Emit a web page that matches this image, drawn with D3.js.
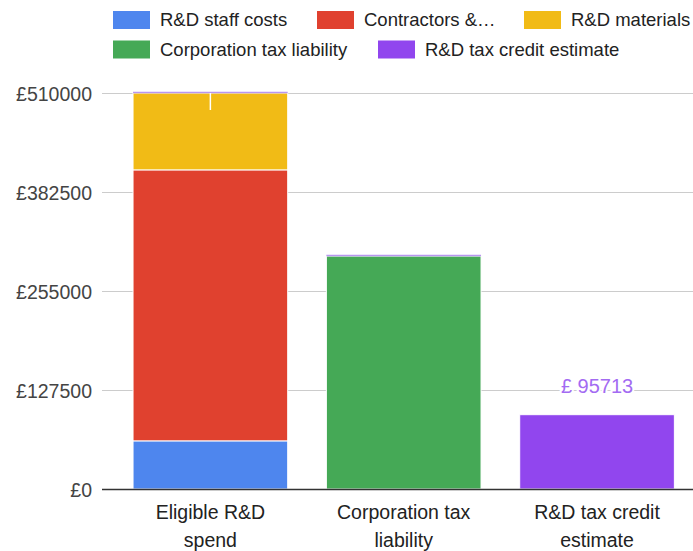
<!DOCTYPE html>
<html>
<head>
<meta charset="utf-8">
<script src="https://cdn.jsdelivr.net/npm/d3@7"></script>
<style>
  body { margin: 0; background: #fff; }
  svg { font-family: Arial, "Liberation Sans", sans-serif; }
  .grid line { stroke: #cccccc; stroke-width: 1; }
  .tick-label { fill: #444; font-size: 19.5px; }
  .cat-label { fill: #222; font-size: 19.5px; }
  .legend-label { fill: #222; font-size: 18.5px; }
</style>
</head>
<body>
<svg id="chart" width="693" height="551"></svg>
<script>
// categories on the x axis (each split on two lines)
var categories = ["Eligible R&D spend", "Corporation tax liability", "R&D tax credit estimate"];
var catLines = [["Eligible R&D", "spend"], ["Corporation tax", "liability"], ["R&D tax credit", "estimate"]];

// series (stacked in this order, bottom to top)
var seriesNames = ["R&D staff costs", "Contractors &…", "R&D materials", "Corporation tax liability", "R&D tax credit estimate"];
var seriesColors = ["#4e86ee", "#e0412f", "#f1bb16", "#45a956", "#9146ee"];

var staffCosts   = [62000, 0, 0];
var contractors  = [349000, 0, 0];
var materials    = [99000, 0, 0];
var corpTax      = [0, 300000, 0];
var taxCredit    = [0, 0, 95713];

// "" = empty annotation (only a stem shows), null = none
var annotations = ["", null, "£ 95713"];
var yTicks = [0, 127500, 255000, 382500, 510000];

var seriesValues = [staffCosts, contractors, materials, corpTax, taxCredit];

var svg = d3.select("#chart");

var rows = categories.map(function(c, i) {
  var r = {cat: c};
  seriesNames.forEach(function(s, j) { r[s] = seriesValues[j][i]; });
  return r;
});
var stacked = d3.stack().keys(seriesNames)(rows);

var x = d3.scaleBand()
  .domain(categories)
  .range([113.7, 693.7])
  .paddingInner(0.2)
  .paddingOuter(0.1);

var y = d3.scaleLinear()
  .domain([0, 510000])
  .range([489, 93]);

// gridlines
svg.append("g").attr("class", "grid")
  .selectAll("line").data(yTicks).enter().append("line")
  .attr("x1", 102).attr("x2", 693)
  .attr("y1", function(d) { return y(d) + 0.5; })
  .attr("y2", function(d) { return y(d) + 0.5; });

// y tick labels
svg.append("g").selectAll("text").data(yTicks).enter().append("text")
  .attr("class", "tick-label")
  .attr("x", 92)
  .attr("y", function(d) { return y(d) + 1; })
  .attr("dy", "0.35em")
  .attr("text-anchor", "end")
  .text(function(d) { return "£" + d; });

// bars
var layers = svg.append("g").selectAll("g").data(stacked).enter().append("g")
  .attr("fill", function(d, i) { return seriesColors[i]; });

layers.selectAll("rect")
  .data(function(d) { return d.map(function(p, i) { return {p: p, cat: categories[i]}; }); })
  .enter().append("rect")
  .filter(function(d) { return d.p[1] - d.p[0] > 0; })
  .attr("x", function(d) { return x(d.cat); })
  .attr("width", x.bandwidth())
  .attr("y", function(d) { return y(d.p[1]); })
  .attr("height", function(d) { return y(d.p[0]) - y(d.p[1]); })
  .attr("stroke", "#fff")
  .attr("stroke-width", 1);

// zero-height tax credit segment shows as a thin line on top of the first two bars
svg.append("g").selectAll("line")
  .data(stacked[4].map(function(p, i) { return {p: p, cat: categories[i]}; }).filter(function(d) { return d.p[1] - d.p[0] === 0; }))
  .enter().append("line")
  .attr("x1", function(d) { return x(d.cat); })
  .attr("x2", function(d) { return x(d.cat) + x.bandwidth(); })
  .attr("y1", function(d) { return y(d.p[1]) - 0.5; })
  .attr("y2", function(d) { return y(d.p[1]) - 0.5; })
  .attr("stroke", "#b896f0")
  .attr("stroke-width", 1.5);

// x axis line
svg.append("line")
  .attr("x1", 102).attr("x2", 693)
  .attr("y1", y(0) + 0.5).attr("y2", y(0) + 0.5)
  .attr("stroke", "#333").attr("stroke-width", 1.5);

// annotations
var totals = rows.map(function(r) { return d3.sum(seriesNames, function(s) { return r[s]; }); });
annotations.forEach(function(a, i) {
  var cx = x(categories[i]) + x.bandwidth() / 2;
  if (a === null) return;
  if (a === "") {
    // empty annotation stem
    svg.append("line")
      .attr("x1", cx).attr("x2", cx)
      .attr("y1", y(totals[i])).attr("y2", y(totals[i]) + 17)
      .attr("stroke", "#fff").attr("stroke-width", 1.5);
    return;
  }
  svg.append("text")
    .attr("x", cx)
    .attr("y", y(totals[i]) - 29)
    .attr("dy", "0.35em")
    .attr("text-anchor", "middle")
    .attr("fill", "#a36bf2")
    .style("font-size", "20px")
    .attr("stroke", "#fff").attr("stroke-width", 4).attr("paint-order", "stroke")
    .text(a);
});

// category labels
var catG = svg.append("g").selectAll("text").data(categories).enter().append("text")
  .attr("class", "cat-label")
  .attr("text-anchor", "middle")
  .attr("x", function(d) { return x(d) + x.bandwidth() / 2; });
catG.selectAll("tspan")
  .data(function(d, i) { return catLines[i]; })
  .enter().append("tspan")
  .attr("x", function() { return d3.select(this.parentNode).attr("x"); })
  .attr("y", function(d, j) { return 519 + j * 28; })
  .text(function(d) { return d; });

// legend
var legendPos = [[113, 20], [317, 20], [524, 20], [113, 49.5], [378, 49.5]];
var lg = svg.append("g").selectAll("g").data(seriesNames).enter().append("g")
  .attr("transform", function(d, i) { return "translate(" + legendPos[i][0] + "," + legendPos[i][1] + ")"; });
lg.append("rect")
  .attr("x", 0).attr("y", -9)
  .attr("width", 37).attr("height", 18)
  .attr("fill", function(d, i) { return seriesColors[i]; });
lg.append("text")
  .attr("class", "legend-label")
  .attr("x", 47).attr("dy", "0.35em")
  .text(function(d) { return d; });
</script>
</body>
</html>
